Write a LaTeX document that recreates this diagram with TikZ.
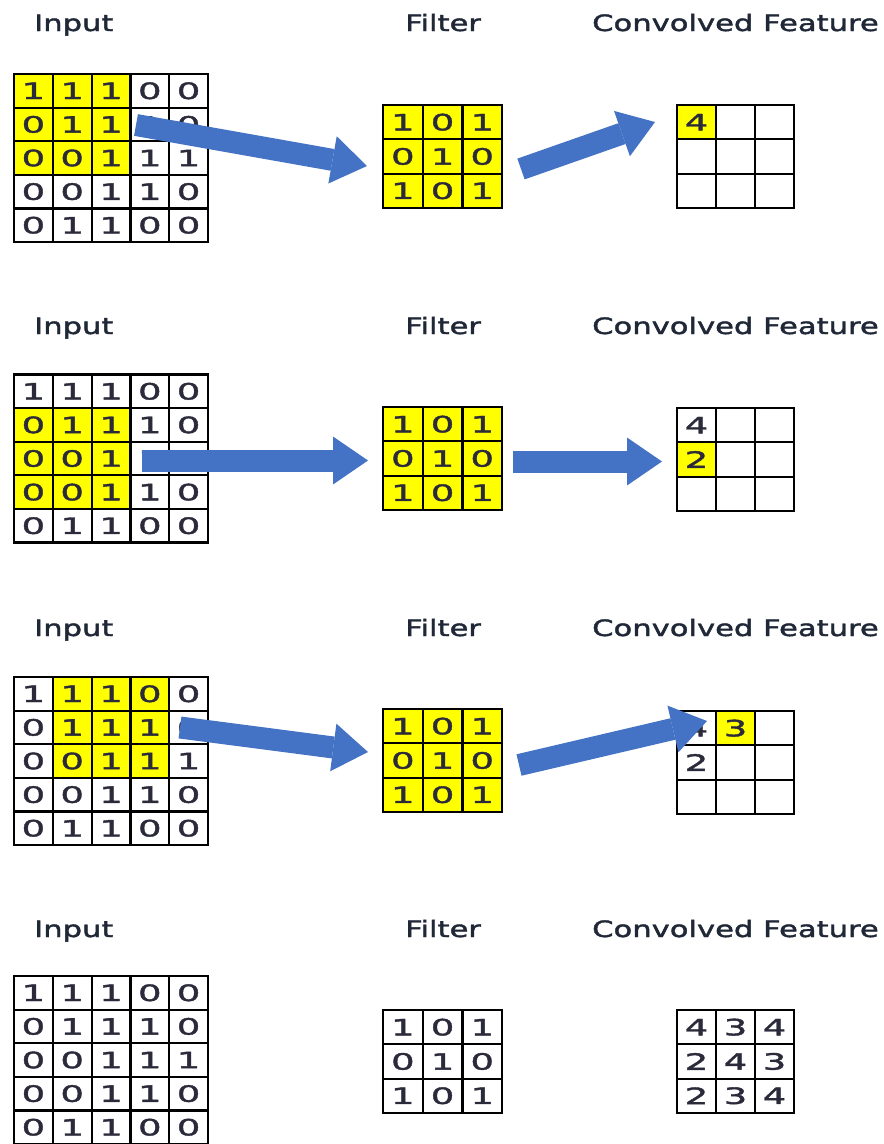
\documentclass[tikz,border=0pt]{standalone}
\usepackage{fontspec}
\usetikzlibrary{arrows.meta}
\newfontfamily\headfont[FakeStretch=1.36,FakeBold=1.8]{DejaVu Sans}
\newfontfamily\digitfont[FakeStretch=1.65,FakeBold=1.8]{DejaVu Sans}
\definecolor{arrowblue}{HTML}{4472C4}
\definecolor{hilite}{HTML}{FFFF00}
\definecolor{ink}{HTML}{2A2A3A}
\definecolor{headink}{HTML}{202838}

% one 3x3 result grid: panel id, top edge, list of value/fill pairs
\newcommand\resultgrid[3]{%
  \foreach \v/\f [count=\k from 0] in {#3} {
    \pgfmathtruncatemacro\rr{int(\k/3)+1}
    \pgfmathtruncatemacro\cc{mod(\k,3)+1}
    \node[ocell, fill=\f] (out#1-\rr-\cc) at ({677+39*(\cc-0.5)}, {#2+34.3*(\rr-0.5)}) {\v};
  }}

\begin{document}
\begin{tikzpicture}[x=1pt,y=-1pt,
  gridcell/.style={draw=black, line width=2.2pt, inner sep=0pt, outer sep=0pt,
    font=\digitfont\fontsize{22.5}{22.5}\selectfont, text=ink},
  icell/.style={gridcell, minimum width=38.8pt, minimum height=33.6pt},
  fcell/.style={gridcell, minimum width=39.7pt, minimum height=34.3pt},
  ocell/.style={gridcell, minimum width=39pt, minimum height=34.3pt},
  heading/.style={anchor=base west, inner sep=0pt, text=headink,
    font=\headfont\fontsize{22.5}{22.5}\selectfont},
  blockarrow/.style={draw=arrowblue, line width=22pt, line cap=butt,
    -{Triangle[width=48pt,length=35pt,line width=0pt]}}]

\useasboundingbox (0,0) rectangle (884,1144);

% headings of the four panels
\foreach \p/\base in {1/31, 2/334, 3/636, 4/937} {
  \node[heading] (inlab\p)  at (34,\base)  {Input};
  \node[heading] (fillab\p) at (405,\base) {Filter};
  \node[heading] (outlab\p) at (592,\base) {Convolved Feature};
}

% 5x5 input grids; the 3x3 window starts after row offset \ro and column offset \co
\foreach \p/\top/\ro/\co in {1/74/0/0, 2/374.5/1/0, 3/677/0/1, 4/976/9/9} {
  \foreach \row [count=\r] in {{1,1,1,0,0},{0,1,1,1,0},{0,0,1,1,1},{0,0,1,1,0},{0,1,1,0,0}} {
    \foreach \v [count=\c] in \row {
      \pgfmathtruncatemacro\hl{and(and(\r>\ro,\r<=\ro+3),and(\c>\co,\c<=\co+3))}
      \ifnum\hl=1 \def\cellfill{hilite}\else\def\cellfill{white}\fi
      \node[icell, fill=\cellfill] (in\p-\r-\c) at ({14+38.8*(\c-0.5)}, {\top+33.6*(\r-0.5)}) {\v};
    }
  }
}

% 3x3 filters
\foreach \p/\top/\ff in {1/105/hilite, 2/407/hilite, 3/709/hilite, 4/1010/white} {
  \foreach \row [count=\r] in {{1,0,1},{0,1,0},{1,0,1}} {
    \foreach \v [count=\c] in \row {
      \node[fcell, fill=\ff] (fil\p-\r-\c) at ({383+39.7*(\c-0.5)}, {\top+34.3*(\r-0.5)}) {\v};
    }
  }
}

% convolved features
\resultgrid{1}{105}{4/hilite,{}/white,{}/white,{}/white,{}/white,{}/white,{}/white,{}/white,{}/white}
\resultgrid{2}{408}{4/white,{}/white,{}/white,2/hilite,{}/white,{}/white,{}/white,{}/white,{}/white}
\resultgrid{3}{711}{4/white,3/hilite,{}/white,2/white,{}/white,{}/white,{}/white,{}/white,{}/white}
\resultgrid{4}{1010}{4/white,3/white,4/white,2/white,4/white,3/white,2/white,3/white,4/white}

% block arrows: input window -> filter -> result cell
\coordinate (a1s) at (136,125);   \coordinate (a1e) at (367,166);
\coordinate (b1s) at (521,169);   \coordinate (b1e) at (655,122);
\coordinate (a2s) at (142,460.5); \coordinate (a2e) at (368,460.5);
\coordinate (b2s) at (513,461.5); \coordinate (b2e) at (662,461.5);
\coordinate (a3s) at (180,727.5); \coordinate (a3e) at (368,752);
\coordinate (b3s) at (519,765);   \coordinate (b3e) at (707,721);
\foreach \p in {1,2,3} {
  \draw[blockarrow] (a\p s) -- (a\p e);
  \draw[blockarrow] (b\p s) -- (b\p e);
}
\end{tikzpicture}
\end{document}
